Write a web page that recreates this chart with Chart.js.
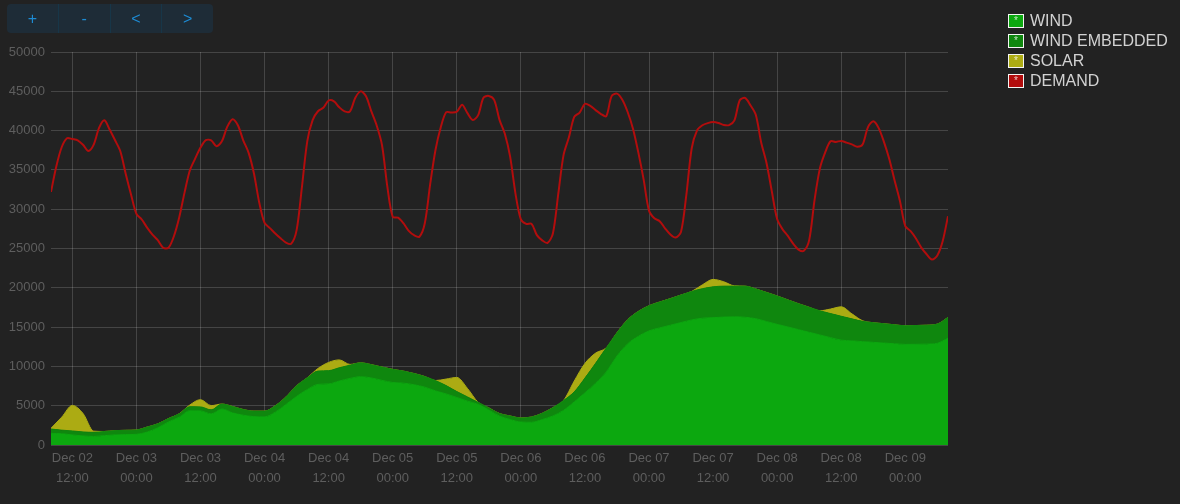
<!DOCTYPE html>
<html>
<head>
<meta charset="utf-8">
<title>Generation mix vs demand</title>
<script src="https://cdn.jsdelivr.net/npm/chart.js@4.4.1/dist/chart.umd.min.js"></script>
<style>
  html, body { margin: 0; padding: 0; background: #222; overflow: hidden; }
  #wrap { position: relative; width: 1180px; height: 504px; }
  #genChart { position: absolute; left: 0; top: 0; }

  .toolbar {
    position: absolute; left: 7px; top: 4px; width: 206px; height: 29px;
    background: #1e2c37; border-radius: 4px; display: flex; overflow: hidden;
  }
  .toolbar button {
    flex: 1; border: 0; border-left: 1px solid #173648; background: transparent;
    color: #1d8bd3; font: 16px "Liberation Sans", Arial, sans-serif; padding: 0; cursor: pointer;
  }
  .toolbar button:first-child { border-left: 0; }

  .legend { position: absolute; left: 1008px; top: 11px; font: 16px "Liberation Sans", Arial, sans-serif; color: #d2d2d2; }
  .legend-item { height: 20px; display: flex; align-items: center; white-space: nowrap; }
  .legend-box {
    width: 14px; height: 12px; border: 1.5px solid #f4f4f4; margin-right: 6px;
    display: flex; align-items: center; justify-content: center;
    font-size: 10px; line-height: 10px; color: rgba(255,255,255,0.75);
  }
</style>
</head>
<body>
<div id="wrap">
  <canvas id="genChart" width="1180" height="504"></canvas>
  <div class="toolbar">
    <button>+</button><button>-</button><button>&lt;</button><button>&gt;</button>
  </div>
  <div class="legend" id="legend"></div>
</div>

<script>
console.log("[gen-chart] Loaded");

/* ── data: hours counted from Dec 02 08:00 ── */
const DEMAND_HOURS = Array.from({ length: 169 }, (_, i) => i);      // hourly
const GEN_HOURS    = Array.from({ length: 85 },  (_, i) => i * 2);  // every 2 h

const DEMAND = [
  32200, 35470, 37880, 39030, 38920, 38770, 38200, 37420, 38220, 40340,
  41310, 40110, 38770, 37350, 34490, 31840, 29410, 28690, 27650, 26760,
  26060, 25090, 25090, 26530, 28920, 32080, 34920, 36440, 37840, 38790,
  38760, 38010, 38640, 40470, 41450, 40680, 38770, 37200, 34580, 30860,
  28250, 27590, 26910, 26300, 25760, 25610, 27330, 32840, 38670, 41340,
  42460, 42900, 43830, 43720, 42960, 42440, 42460, 44180, 44990, 44360,
  42440, 40640, 38140, 32840, 29030, 28920, 28220, 27240, 26690, 26500,
  28180, 33090, 37500, 40420, 42330, 42300, 42390, 43300, 42220, 41350,
  41970, 44190, 44410, 43900, 41360, 39590, 36650, 31960, 28710, 28140,
  28140, 26700, 26040, 25710, 26910, 31910, 36910, 39150, 41740, 42290,
  43410, 43140, 42610, 42110, 41840, 44390, 44700, 43930, 42370, 40250,
  37230, 33770, 29820, 28840, 28480, 27570, 26780, 26390, 27120, 31870,
  37750, 40030, 40680, 40950, 41080, 40970, 40720, 40700, 41300, 43860,
  44150, 43220, 42010, 38520, 35900, 32280, 28750, 27460, 26600, 25620,
  24860, 24700, 26060, 31140, 35160, 37230, 38640, 38560, 38690, 38470,
  38250, 37960, 38230, 40420, 41180, 40350, 38560, 36390, 33660, 31040,
  27840, 27210, 26280, 25110, 24270, 23600, 24110, 25920, 29100
];

const WIND = [
  1480, 1430, 1280, 1150, 1090, 1190, 1280, 1320, 1360, 1640,
  2190, 2930, 3540, 4360, 4340, 3960, 4580, 4090, 3790, 3610,
  3580, 4180, 5150, 6190, 7060, 7710, 7770, 8140, 8470, 8690,
  8530, 8220, 7950, 7870, 7660, 7360, 6890, 6500, 6050, 5580,
  5170, 4460, 3680, 3240, 2920, 2890, 3240, 3690, 4410, 5490,
  6640, 7860, 9300, 11320, 12880, 13830, 14520, 14900, 15240, 15580,
  15910, 16130, 16200, 16270, 16300, 16250, 16070, 15710, 15350, 15020,
  14680, 14340, 14000, 13660, 13340, 13250, 13150, 13060, 12970, 12880,
  12800, 12810, 12830, 12940, 13600
];

const WIND_EMBEDDED = [
  550, 460, 510, 510, 520, 530, 550, 550, 550, 640,
  500, 430, 430, 510, 510, 510, 630, 810, 720, 700,
  730, 810, 960, 1350, 1490, 1700, 1690, 1690, 1690, 1760,
  1690, 1690, 1670, 1530, 1430, 1350, 1310, 1060, 750, 540,
  260, 260, 330, 450, 520, 670, 790, 1060, 1260, 1270,
  1880, 2540, 3060, 2960, 3060, 3160, 3200, 3290, 3380, 3500,
  3630, 3760, 3920, 3940, 3910, 3960, 3780, 3700, 3610, 3440,
  3290, 3180, 3080, 3060, 3040, 2800, 2580, 2500, 2460, 2410,
  2370, 2390, 2410, 2440, 2630
];

const SOLAR = [
  100, 1650, 3250, 2350, 150, 0, 0, 0, 0, 0,
  0, 0, 0, 220, 920, 540, 0, 0, 0, 0,
  0, 0, 0, 0, 0, 330, 1050, 1000, 90, 0,
  0, 0, 0, 0, 0, 0, 0, 830, 1800, 1080,
  0, 0, 0, 0, 0, 0, 0, 0, 0, 1380,
  1860, 1290, 0, 0, 0, 0, 0, 0, 0, 0,
  0, 490, 950, 560, 40, 0, 0, 0, 0, 0,
  0, 0, 0, 580, 1200, 640, 80, 0, 0, 0,
  0, 0, 0, 0, 0
];

const TICK_HOURS  = [4, 16, 28, 40, 52, 64, 76, 88, 100, 112, 124, 136, 148, 160];
const TICK_LABELS = [
  ["Dec 02", "12:00"], ["Dec 03", "00:00"], ["Dec 03", "12:00"], ["Dec 04", "00:00"],
  ["Dec 04", "12:00"], ["Dec 05", "00:00"], ["Dec 05", "12:00"], ["Dec 06", "00:00"],
  ["Dec 06", "12:00"], ["Dec 07", "00:00"], ["Dec 07", "12:00"], ["Dec 08", "00:00"],
  ["Dec 08", "12:00"], ["Dec 09", "00:00"]
];

const SERIES = ["WIND", "WIND EMBEDDED", "SOLAR", "DEMAND"];
const COLORS = {
  WIND:            "#0ca80f",
  "WIND EMBEDDED": "#0f870e",
  SOLAR:           "#acab13",
  DEMAND:          "#b20d0d",
};

/* ── helpers ── */
function pts(xs, ys) {
  return ys.map((y, i) => ({ x: xs[i], y }));
}

function areaSet(name, values, fill) {
  return {
    label: name,
    data: pts(GEN_HOURS, values),
    stack: "gen",
    fill,
    backgroundColor: COLORS[name],
    borderColor: COLORS[name],
    borderWidth: 1,
    pointRadius: 0,
    cubicInterpolationMode: "monotone",
  };
}

/* ── legend ── */
document.getElementById("legend").innerHTML = SERIES.map((s) => `
  <div class="legend-item">
    <span class="legend-box" style="background:${COLORS[s]}">*</span>${s}
  </div>`).join("");

/* ── chart ── */
Chart.defaults.font.family = '"Liberation Sans", Arial, sans-serif';
Chart.defaults.font.size   = 13;
Chart.defaults.color       = "#5e5e5e";

const GRID = "rgba(255,255,255,0.16)";

new Chart(document.getElementById("genChart"), {
  type: "line",
  data: {
    datasets: [
      areaSet("WIND", WIND, "origin"),
      areaSet("WIND EMBEDDED", WIND_EMBEDDED, "-1"),
      areaSet("SOLAR", SOLAR, "-1"),
      {
        label: "DEMAND",
        data: pts(DEMAND_HOURS, DEMAND),
        stack: "demand",
        fill: false,
        borderColor: COLORS.DEMAND,
        borderWidth: 2,
        pointRadius: 0,
        tension: 0.3,
      },
    ],
  },
  options: {
    responsive: false,
    animation: false,
    devicePixelRatio: 1,
    layout: { padding: { top: 52, right: 232, bottom: 0, left: 0 } },
    plugins: {
      legend:  { display: false },
      tooltip: { enabled: false },
    },
    scales: {
      x: {
        type: "linear",
        min: 0,
        max: 168,
        z: 1,
        border: { display: false },
        grid: { color: GRID, drawTicks: false },
        afterBuildTicks: (axis) => {
          axis.ticks = TICK_HOURS.map((v) => ({ value: v }));
        },
        afterFit: (axis) => { axis.height = 59; },
        ticks: {
          autoSkip: false,
          maxRotation: 0,
          padding: 3,
          font: { lineHeight: "20px" },
          callback: (v, i) => TICK_LABELS[i],
        },
      },
      y: {
        stacked: true,
        min: 0,
        max: 50000,
        z: 1,
        border: { display: false },
        grid: { color: GRID, drawTicks: false },
        afterFit: (axis) => { axis.width = 51; },
        ticks: {
          stepSize: 5000,
          padding: 6,
          callback: (v) => String(v),
        },
      },
    },
  },
});
</script>
</body>
</html>
